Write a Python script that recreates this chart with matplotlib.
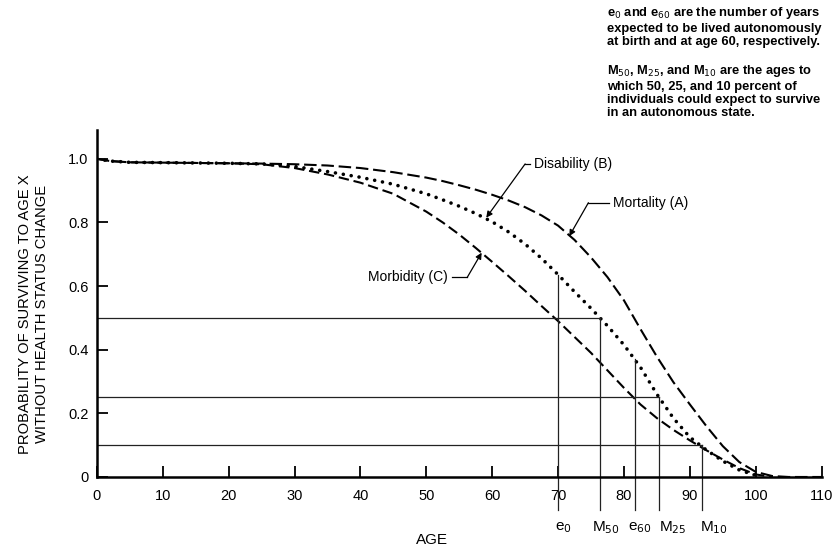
import numpy as np
import matplotlib
matplotlib.use('Agg')
import matplotlib.pyplot as plt

# survival curves
ages = [0, 2, 5, 10, 15, 20, 25, 30, 35, 40, 45, 50, 52.5, 55, 57.5, 60, 62.5, 65, 67.5,
        70, 72.5, 75, 77.5, 80, 82.5, 85, 87.5, 90, 92.5, 95, 97.5, 100, 102.5, 105, 110]
mortality = [1.0, 0.993, 0.989, 0.988, 0.987, 0.986, 0.985, 0.983, 0.979, 0.971, 0.958, 0.941, 0.93,
             0.917, 0.903, 0.887, 0.869, 0.848, 0.822, 0.79, 0.745, 0.69, 0.628, 0.555, 0.465,
             0.378, 0.298, 0.228, 0.16, 0.097, 0.047, 0.016, 0.003, 0.0, 0.0]
disability = [1.0, 0.993, 0.989, 0.988, 0.987, 0.986, 0.984, 0.976, 0.96, 0.942, 0.92, 0.89, 0.871,
              0.851, 0.828, 0.802, 0.77, 0.732, 0.687, 0.636, 0.582, 0.53, 0.475, 0.415, 0.345,
              0.26, 0.185, 0.125, 0.085, 0.05, 0.022, 0.005, 0.0, 0.0, 0.0]
morbidity = [1.0, 0.993, 0.989, 0.988, 0.987, 0.986, 0.983, 0.971, 0.951, 0.925, 0.89, 0.834, 0.8,
             0.762, 0.72, 0.676, 0.631, 0.585, 0.537, 0.49, 0.44, 0.39, 0.335, 0.28, 0.228,
             0.185, 0.148, 0.115, 0.084, 0.055, 0.028, 0.008, 0.0, 0.0, 0.0]

# marker ages (e0, M50, e60, M25, M10) and where their lines stop on curve B
mark_names = ['e$_0$', 'M$_{50}$', 'e$_{60}$', 'M$_{25}$', 'M$_{10}$']
mark_ages = [70, 76.4, 81.7, 85.3, 91.8]
mark_tops = [0.636, 0.5, 0.37, 0.25, 0.1]

# percent-surviving levels and the ages they reach
level_vals = [0.5, 0.25, 0.1]
level_ends = [76.4, 85.3, 91.8]

xticks = list(range(0, 111, 10))
yticks = [0, 0.2, 0.4, 0.6, 0.8, 1.0]
ytick_labels = ['0', '0.2', '0.4', '0.6', '0.8', '1.0']

plt.rcParams['font.family'] = ['Liberation Sans', 'DejaVu Sans']

fig = plt.figure(figsize=(8.35, 5.47), dpi=100)
ax = fig.add_axes([0.116, 0.128, 0.868, 0.634])

ax.plot(ages, mortality, color='k', lw=1.5, linestyle=(0, (6, 2.3)))
ax.plot(ages[:-2], morbidity[:-2], color='k', lw=1.5, linestyle=(0, (5, 2.3)))
ax.plot(ages[:-3], disability[:-3], color='k', lw=2.6, linestyle=(0, (0.01, 2.2)),
        dash_capstyle='round')

for lv, end in zip(level_vals, level_ends):
    ax.plot([0, end], [lv, lv], color='#222222', lw=0.9)

for a, top in zip(mark_ages, mark_tops):
    ax.plot([a, a], [-0.105, top], color='#222222', lw=0.9, clip_on=False)

label_x = [70.8, 77.2, 82.4, 87.4, 93.6]
for name, lx in zip(mark_names, label_x):
    ax.text(lx, -0.16, name, ha='center', va='center', fontsize=11)

# curve labels with leader lines
def leader(text, tx, ty, ex, tip, ha):
    ax.text(tx, ty, text, ha=ha, va='center', fontsize=10)
    ax.plot([tx - 0.6 if ha == 'left' else tx + 0.6, ex], [ty, ty], color='k', lw=0.9)
    ax.annotate('', xy=tip, xytext=(ex, ty),
                arrowprops=dict(arrowstyle='-|>', color='k', lw=0.9,
                                shrinkA=0, shrinkB=0, mutation_scale=9))

leader('Disability (B)', 66.4, 0.984, 65.0, (59.1, 0.815), 'left')
leader('Mortality (A)', 78.3, 0.862, 74.6, (71.7, 0.757), 'left')
leader('Morbidity (C)', 53.3, 0.627, 56.2, (58.4, 0.705), 'right')

ax.set_xlim(0, 110)
ax.set_ylim(0, 1.09)
ax.set_xticks(xticks)
ax.set_yticks(yticks)
ax.set_yticklabels(ytick_labels)
ax.tick_params(direction='in', length=8, width=1.3, labelsize=10.5)
ax.tick_params(axis='x', pad=9)
ax.tick_params(axis='y', pad=6)
for s in ['top', 'right']:
    ax.spines[s].set_visible(False)
for s in ['left', 'bottom']:
    ax.spines[s].set_linewidth(1.8)

ax.text(0.462, -0.182, 'AGE', transform=ax.transAxes, ha='center', va='center',
        fontsize=11)
ax.set_ylabel('PROBABILITY OF SURVIVING TO AGE X\nWITHOUT HEALTH STATUS CHANGE',
              fontsize=10.6, linespacing=1.3)
ax.yaxis.set_label_coords(-0.066, 0.47)

note = ('e$_0$ and e$_{60}$ are the number of years\n'
        'expected to be lived autonomously\n'
        'at birth and at age 60, respectively.')
note2 = ('M$_{50}$, M$_{25}$, and M$_{10}$ are the ages to\n'
         'which 50, 25, and 10 percent of\n'
         'individuals could expect to survive\n'
         'in an autonomous state.')
fig.text(0.727, 0.99, note, ha='left', va='top', fontsize=9.3, weight='bold',
         linespacing=1.12)
fig.text(0.727, 0.884, note2, ha='left', va='top', fontsize=9.3, weight='bold',
         linespacing=1.12)

plt.savefig('out.png', dpi=100)
